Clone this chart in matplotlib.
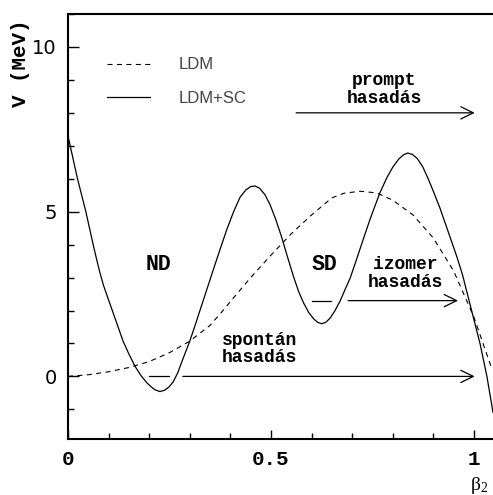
import matplotlib
matplotlib.use("Agg")
import matplotlib.pyplot as plt
from matplotlib.ticker import MultipleLocator

# deformation beta_2 and potential V (MeV)
beta_sc = [0.000, 0.023, 0.044, 0.062, 0.070, 0.078, 0.087, 0.100, 0.116, 0.136, 0.150,
           0.165, 0.180, 0.194, 0.205, 0.215, 0.2266, 0.238, 0.248, 0.259, 0.270,
           0.280, 0.290, 0.300, 0.315, 0.333, 0.358, 0.375, 0.391, 0.408, 0.424,
           0.438, 0.450, 0.461, 0.472, 0.485, 0.4975, 0.512, 0.526, 0.540, 0.555,
           0.568, 0.580, 0.593, 0.605, 0.615, 0.625, 0.635, 0.645, 0.657, 0.670,
           0.682, 0.695, 0.710, 0.727, 0.745, 0.768, 0.785, 0.800, 0.815, 0.827,
           0.837, 0.848, 0.860, 0.874, 0.888, 0.900, 0.916, 0.935, 0.958, 0.972,
           0.985, 0.998, 1.015, 1.032, 1.047]
v_sc = [7.30, 6.02, 5.00, 4.00, 3.58, 3.18, 2.78, 2.32, 1.76, 1.06, 0.68,
        0.31, 0.02, -0.19, -0.32, -0.41, -0.46, -0.42, -0.33, -0.17, 0.10,
        0.43, 0.75, 1.07, 1.62, 2.30, 3.24, 3.87, 4.45, 5.00, 5.44,
        5.66, 5.76, 5.78, 5.71, 5.52, 5.22, 4.76, 4.24, 3.66, 3.05,
        2.58, 2.24, 1.94, 1.75, 1.64, 1.60, 1.64, 1.76, 1.98, 2.28,
        2.62, 2.98, 3.52, 4.15, 4.80, 5.56, 6.02, 6.35, 6.60, 6.73,
        6.78, 6.74, 6.62, 6.36, 5.98, 5.62, 5.12, 4.45, 3.63, 3.08,
        2.45, 1.82, 1.00, 0.00, -1.09]

beta_ldm = [0.00, 0.05, 0.10, 0.15, 0.20, 0.25, 0.30, 0.35, 0.375, 0.40, 0.45, 0.50,
            0.55, 0.60, 0.65, 0.68, 0.72, 0.76, 0.80, 0.85, 0.90, 0.95, 1.00, 1.045]
v_ldm = [0.00, 0.05, 0.14, 0.27, 0.45, 0.72, 1.07, 1.55, 1.90, 2.27, 3.00, 3.68,
         4.33, 4.90, 5.42, 5.56, 5.62, 5.57, 5.35, 4.90, 4.20, 3.20, 1.80, 0.20]

# fission paths: (start, end, level)
arrows = [(0.562, 1.002, 8.0),    # prompt
          (0.690, 0.961, 2.3),    # izomer
          (0.283, 1.002, 0.0)]    # spontan
dashes_short = [(0.600, 0.648, 2.3), (0.200, 0.250, 0.0)]

mono = 'Liberation Mono'

fig = plt.figure(figsize=(4.93, 4.95), dpi=100)
ax = fig.add_axes([68/493, 1-439/495, (493-68)/493, (439-14)/495])

ax.plot(beta_ldm, v_ldm, color='black', lw=0.8, linestyle=(0, (4.5, 4)), label='LDM')
ax.plot(beta_sc, v_sc, color='black', lw=0.9, label='LDM+SC')

for x0, x1, y in arrows:
    ax.annotate('', xy=(x1, y), xytext=(x0, y),
                arrowprops=dict(arrowstyle='->,head_length=0.45,head_width=0.22',
                                lw=0.9, color='black', shrinkA=0, shrinkB=0,
                                mutation_scale=20))
for x0, x1, y in dashes_short:
    ax.plot([x0, x1], [y, y], color='black', lw=0.9)

ax.text(0.222, 3.39, 'ND', fontsize=15.5, fontweight='bold', family=mono, ha='center', va='center')
ax.text(0.631, 3.39, 'SD', fontsize=15.5, fontweight='bold', family=mono, ha='center', va='center')
ax.text(0.830, 3.12, 'izomer\nhasadás', fontsize=13, fontweight='bold', family=mono,
        ha='center', va='center', linespacing=1.05)
ax.text(0.779, 8.70, 'prompt\nhasadás', fontsize=13, fontweight='bold', family=mono,
        ha='center', va='center', linespacing=1.05)
ax.text(0.472, 0.82, 'spontán\nhasadás', fontsize=13, fontweight='bold', family=mono,
        ha='center', va='center', linespacing=1.0)

ax.set_xlim(0, 1.047)
ax.set_ylim(-1.9, 11)
ax.xaxis.set_minor_locator(MultipleLocator(0.1))
ax.yaxis.set_major_locator(MultipleLocator(5))
ax.yaxis.set_minor_locator(MultipleLocator(1))
ax.set_xticks([0, 0.5, 1])
ax.set_xticklabels(['0', '0.5', '1'])
ax.tick_params(which='both', direction='in', top=False, right=False, width=1)
ax.tick_params(axis='y', which='major', length=8, pad=8, labelsize=14)
ax.tick_params(axis='y', which='minor', length=4)
ax.tick_params(axis='x', which='major', length=6.5, pad=8, labelsize=15)
ax.tick_params(axis='x', which='minor', length=4.3)
for lab in ax.get_xticklabels():
    lab.set_family(mono)
    lab.set_fontweight('bold')
for lab in ax.get_yticklabels():
    lab.set_family('DejaVu Sans')

for s in ['left', 'bottom', 'top']:
    ax.spines[s].set_linewidth(1.5)
ax.spines['right'].set_visible(False)

leg = ax.legend(loc='upper left', bbox_to_anchor=(0.092, 0.898), frameon=False,
                borderpad=0, borderaxespad=0, handlelength=2.6, handletextpad=1.7,
                labelspacing=1.13, prop={'family': 'Liberation Sans', 'size': 12})
for t in leg.get_texts():
    t.set_color('#444444')

fig.text(21/493, 1-63/495, 'V (MeV)', rotation=90, fontsize=15, fontweight='bold',
         family=mono, ha='center', va='center')
fig.text(488/493, 1-486/495, r'$\mathregular{\beta_2}$', fontsize=14,
         family='Liberation Serif', ha='right', va='center')

fig.savefig('out.png', dpi=100)
